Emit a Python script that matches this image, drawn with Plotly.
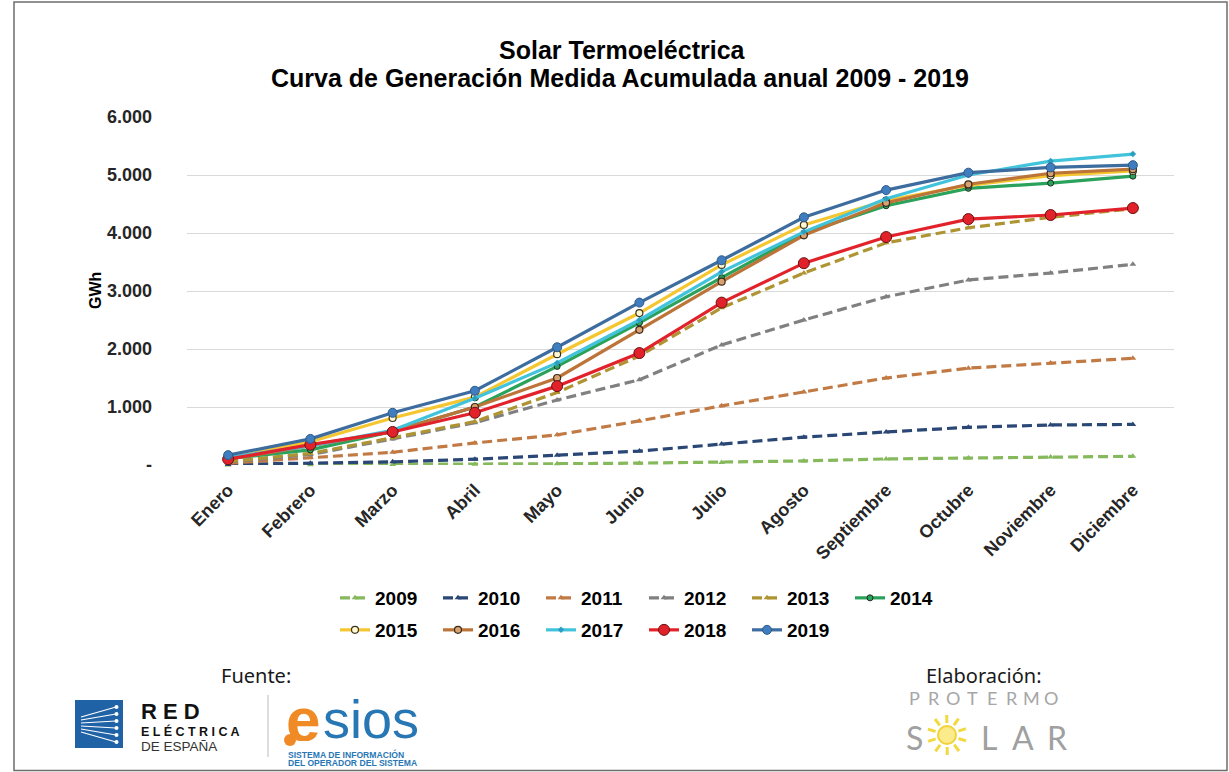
import math
import plotly.graph_objects as go

months = ["Enero", "Febrero", "Marzo", "Abril", "Mayo", "Junio", "Julio",
          "Agosto", "Septiembre", "Octubre", "Noviembre", "Diciembre"]

y2009 = [2, 5, 10, 15, 22, 32, 45, 70, 105, 120, 140, 150]
y2010 = [10, 30, 55, 100, 170, 240, 360, 480, 570, 650, 690, 700]
y2011 = [30, 130, 220, 380, 520, 760, 1020, 1260, 1500, 1670, 1760, 1840]
y2012 = [50, 180, 450, 730, 1120, 1470, 2070, 2500, 2900, 3190, 3310, 3460]
y2013 = [60, 200, 470, 750, 1250, 1880, 2710, 3310, 3830, 4090, 4270, 4420]
y2014 = [110, 260, 580, 1000, 1700, 2450, 3230, 4000, 4470, 4770, 4860, 4980]
y2015 = [120, 400, 810, 1170, 1910, 2620, 3450, 4140, 4560, 4820, 4990, 5070]
y2016 = [100, 330, 580, 1000, 1500, 2330, 3160, 3960, 4520, 4840, 5030, 5100]
y2017 = [130, 330, 600, 1150, 1760, 2500, 3330, 4020, 4590, 5000, 5240, 5360]
y2018 = [100, 350, 570, 900, 1360, 1930, 2800, 3480, 3930, 4240, 4310, 4430]
y2019 = [170, 450, 900, 1280, 2030, 2800, 3530, 4270, 4740, 5040, 5130, 5170]

ytick_vals = [0, 1000, 2000, 3000, 4000, 5000, 6000]
ytick_text = ["-", "1.000", "2.000", "3.000", "4.000", "5.000", "6.000"]

W, H = 1229, 772
L, R, T, B = 187, 1174, 117, 465


def PX(x):
    return (x - L) / (R - L)


def PY(y):
    return (B - y) / (B - T)


FONT = "Liberation Sans, Arial, sans-serif"
DASH = "10px,5px"

fig = go.Figure()

dashed = [
    ("2009", y2009, "#86B85C"),
    ("2010", y2010, "#2A4776"),
    ("2011", y2011, "#C27A44"),
    ("2012", y2012, "#808080"),
    ("2013", y2013, "#AE9432"),
]
for name, ys, col in dashed:
    fig.add_trace(go.Scatter(
        x=months, y=ys, name=name, mode="lines+markers",
        line=dict(color=col, width=3.2, dash=DASH),
        marker=dict(symbol="triangle-up", size=6, color=col),
        cliponaxis=False, legend="legend"))

solid = [
    ("2014", y2014, "#2BA25B", dict(symbol="circle", size=6, color="#2BA25B",
                                     line=dict(color="#1E2E1E", width=1)), "legend"),
    ("2015", y2015, "#F4C630", dict(symbol="circle", size=7, color="#FFF8D0",
                                     line=dict(color="#3A3320", width=1.2)), "legend2"),
    ("2016", y2016, "#BC7438", dict(symbol="circle", size=7, color="#D9A070",
                                     line=dict(color="#3A2A1A", width=1.2)), "legend2"),
    ("2017", y2017, "#42C3DC", dict(symbol="diamond", size=5, color="#2A9FC0"), "legend2"),
    ("2018", y2018, "#E2222B", dict(symbol="circle", size=11, color="#E2222B",
                                     line=dict(color="#6A1010", width=1)), "legend2"),
    ("2019", y2019, "#3D6C9E", dict(symbol="circle", size=9, color="#3F7DBF",
                                     line=dict(color="#2F5A88", width=1)), "legend2"),
]
for name, ys, col, mk, lg in solid:
    fig.add_trace(go.Scatter(
        x=months, y=ys, name=name, mode="lines+markers",
        line=dict(color=col, width=3.2), marker=mk,
        cliponaxis=False, legend=lg))

legend_common = dict(orientation="h", font=dict(family=FONT, size=19, color="#000000", weight="bold"),
                     bgcolor="rgba(0,0,0,0)", entrywidth=58, entrywidthmode="pixels",
                     xanchor="left", yanchor="middle", traceorder="normal", itemclick=False)

fig.update_layout(
    width=W, height=H,
    margin=dict(l=L, r=W - R, t=T, b=H - B, pad=0),
    paper_bgcolor="white", plot_bgcolor="white",
    separators=",.",
    xaxis=dict(type="category", range=[-0.5, 11.5], tickangle=-45, showgrid=False,
               showline=False, zeroline=False, ticks="", ticklabelstandoff=10,
               tickfont=dict(family=FONT, size=18, color="#262626", weight="bold")),
    yaxis=dict(range=[0, 6000], tickvals=ytick_vals, ticktext=ytick_text,
               showgrid=True, gridcolor="#D9D9D9", gridwidth=1, zeroline=False,
               showline=False, ticks="", ticklabelstandoff=34,
               tickfont=dict(family=FONT, size=18, color="#262626", weight="bold")),
    legend=dict(x=PX(335), y=PY(598), **legend_common),
    legend2=dict(x=PX(335), y=PY(630), **legend_common),
    showlegend=True,
)

ann = []


def add_text(text, x, y, size, color="#000000", family=FONT, xanchor="center", angle=0, height=None):
    a = dict(text=text, x=PX(x), y=PY(y), xref="paper", yref="paper",
             xanchor=xanchor, yanchor="middle", showarrow=False, textangle=angle,
             font=dict(family=family, size=size, color=color))
    if height is not None:
        a["height"] = height
    ann.append(a)


add_text("<b>Solar Termoeléctrica</b>", 622, 50, 25)
add_text("<b>Curva de Generación Medida Acumulada anual 2009 - 2019</b>", 620, 78, 25)
add_text("<b>GWh</b>", 95, 291, 16, angle=-90)
add_text("Fuente:", 256, 675, 20, color="#1a1a1a", family="Noto Sans, sans-serif")
add_text("Elaboración:", 984, 675, 20, color="#1a1a1a", family="Noto Sans, sans-serif")
# Red Eléctrica text
add_text("<b>R E D</b>", 139, 711, 22, color="#111111", xanchor="left")
add_text("<b>E L É C T R I C A</b>", 139, 731, 12.5, color="#111111", xanchor="left")
add_text("DE ESPAÑA", 139, 746, 13.5, color="#333333", xanchor="left")
# esios
add_text("<b>e</b>", 303, 719, 62, color="#F08A24", height=44)
add_text("sios", 371, 719, 54, color="#2777B5", height=44)
add_text("<b>SISTEMA DE INFORMACIÓN</b>", 286, 754.5, 8.6, color="#2777B5", xanchor="left")
add_text("<b>DEL OPERADOR DEL SISTEMA</b>", 286, 762.5, 8.6, color="#2777B5", xanchor="left")
# Protermo Solar
for i, ch in enumerate("PROTERMO"):
    add_text(ch, 914 + i * 19.5, 698, 18, color="#A6A6A6", family="Lato, sans-serif")
add_text("S", 914, 737, 32, color="#A0A0A0", family="Lato, sans-serif")
for ch, xx in [("L", 989), ("A", 1023), ("R", 1057)]:
    add_text(ch, xx, 737, 32, color="#A0A0A0", family="Lato, sans-serif")
fig.update_layout(annotations=ann)

shapes = []
# outer border
shapes.append(dict(type="rect", xref="paper", yref="paper",
                   x0=PX(14), x1=PX(1227), y0=PY(770.5), y1=PY(2),
                   line=dict(color="#6E6E6E", width=1.5), fillcolor="rgba(0,0,0,0)", layer="below"))
# REE square
shapes.append(dict(type="rect", xref="paper", yref="paper",
                   x0=PX(75), x1=PX(123), y0=PY(748), y1=PY(700),
                   line=dict(width=0), fillcolor="#1F62A6"))
for y_end, y_start in [(707, 717), (714, 720), (721, 723), (728, 726), (735, 729), (742, 732)]:
    shapes.append(dict(type="line", xref="paper", yref="paper",
                       x0=PX(81), y0=PY(y_start), x1=PX(116), y1=PY(y_end),
                       line=dict(color="white", width=1.2)))
    shapes.append(dict(type="circle", xref="paper", yref="paper",
                       x0=PX(114.5), x1=PX(118.5), y0=PY(y_end + 2), y1=PY(y_end - 2),
                       line=dict(width=0), fillcolor="white"))
# separator
shapes.append(dict(type="line", xref="paper", yref="paper",
                   x0=PX(268), x1=PX(268), y0=PY(695), y1=PY(757),
                   line=dict(color="#BBBBBB", width=1)))
# esios orange dot
shapes.append(dict(type="circle", xref="paper", yref="paper",
                   x0=PX(284), x1=PX(296), y0=PY(746), y1=PY(734),
                   line=dict(width=0), fillcolor="#F08A24"))
# sun
cx, cy = 947, 735
shapes.append(dict(type="circle", xref="paper", yref="paper",
                   x0=PX(cx - 9), x1=PX(cx + 9), y0=PY(cy + 9), y1=PY(cy - 9),
                   line=dict(color="#F0D23A", width=2), fillcolor="#FBEB8A"))
for k in range(10):
    ang = 2 * math.pi * k / 10 + 0.3
    shapes.append(dict(type="line", xref="paper", yref="paper",
                       x0=PX(cx + 12 * math.cos(ang)), y0=PY(cy + 12 * math.sin(ang)),
                       x1=PX(cx + 20 * math.cos(ang)), y1=PY(cy + 20 * math.sin(ang)),
                       line=dict(color="#F3D940", width=3)))
fig.update_layout(shapes=shapes)

fig.write_html("out.html", config={"displayModeBar": False},
               post_script="document.body.style.margin='0';document.body.style.overflow='hidden';")
